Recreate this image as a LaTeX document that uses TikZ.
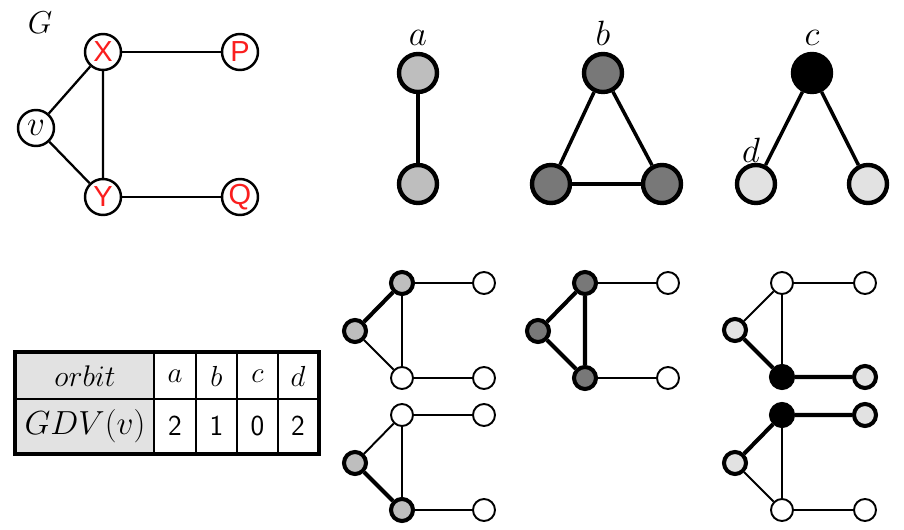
\RequirePackage{fix-cm}
\documentclass[tikz,border=0pt]{standalone}
\usepackage{xcolor}
\usepackage{fontspec}
\usepackage{tikz}
\usetikzlibrary{positioning}
\newfontfamily\letterfont{Liberation Sans}
\definecolor{GLRed}{RGB}{250,30,30}
\definecolor{OrbA}{RGB}{190,190,190}
\definecolor{OrbB}{RGB}{120,120,120}
\definecolor{OrbD}{RGB}{226,226,226}
\definecolor{CellGray}{RGB}{226,226,226}
\newcommand{\bigfont}{\fontsize{20}{22}\selectfont}
\newcommand{\midfont}{\fontsize{16.5}{18}\selectfont}

\begin{document}
\begin{tikzpicture}[x=0.02cm, y=-0.02cm,
    gnode/.style={circle, draw, fill=white, line width=1.4pt,
                  minimum size=0.72cm, inner sep=0pt},
    redletter/.style={text=GLRed, font=\letterfont\midfont},
    gedge/.style={line width=1.3pt},
    orbnode/.style={circle, draw, line width=2.5pt,
                    minimum size=0.76cm, inner sep=0pt},
    orbedge/.style={line width=2pt},
    snode/.style={circle, draw, fill=white, line width=1.1pt,
                  minimum size=0.44cm, inner sep=0pt},
    hnode/.style={snode, line width=2.3pt},
    thinedge/.style={line width=1.1pt},
    thickedge/.style={line width=2.3pt},
    cell/.style={draw, line width=1.1pt, inner sep=0pt,
                 minimum height=0.92cm},
    lowcell/.style={cell, minimum height=1.08cm},
    numcell/.style={lowcell, font=\sffamily\midfont}]
  \useasboundingbox (0,0) rectangle (904,530);

  % graph G
  \node[font=\fontsize{18}{20}\selectfont] (Glabel) at (40,23) {$G$};
  \node[gnode, redletter] (X) at (103,52) {X};
  \node[gnode, redletter] (P) at (240,52) {P};
  \node[gnode, font=\bigfont] (v) at (36,128) {$v$};
  \node[gnode, redletter] (Y) at (103,197) {Y};
  \node[gnode, redletter] (Q) at (240,197) {Q};
  \draw[gedge] (v) -- (X) -- (Y) -- (v);
  \draw[gedge] (X) -- (P);
  \draw[gedge] (Y) -- (Q);

  % graphlets with orbits
  \node[orbnode, fill=OrbA] (a1) at (418,73) {};
  \node[orbnode, fill=OrbA] (a2) at (418,184) {};
  \node[font=\bigfont, above=0pt of a1] (alabel) {$a$};
  \draw[orbedge] (a1) -- (a2);

  \node[orbnode, fill=OrbB] (b1) at (603,73) {};
  \node[orbnode, fill=OrbB] (b2) at (551,184) {};
  \node[orbnode, fill=OrbB] (b3) at (662,184) {};
  \node[font=\bigfont, above=0pt of b1] (blabel) {$b$};
  \draw[orbedge] (b1) -- (b2) -- (b3) -- (b1);

  \node[orbnode, fill=black] (c1) at (812,73) {};
  \node[orbnode, fill=OrbD] (d1) at (756,184) {};
  \node[orbnode, fill=OrbD] (d2) at (868,184) {};
  \node[font=\bigfont, above=0pt of c1] (clabel) {$c$};
  \node[font=\bigfont] (dlabel) at (751,150) {$d$};
  \draw[orbedge] (d1) -- (c1) -- (d2);

  % orbit a, first copy
  \node[hnode, fill=OrbA] (X1) at (402,283) {};
  \node[hnode, fill=OrbA] (v1) at (355,331) {};
  \node[snode] (Y1) at (402,378) {};
  \node[snode] (P1) at (484,283) {};
  \node[snode] (Q1) at (484,378) {};
  \draw[thickedge] (v1) -- (X1);
  \draw[thinedge] (X1) -- (Y1) -- (v1);
  \draw[thinedge] (X1) -- (P1);
  \draw[thinedge] (Y1) -- (Q1);

  % orbit a, second copy
  \node[snode] (X2) at (402,415) {};
  \node[hnode, fill=OrbA] (v2) at (355,463) {};
  \node[hnode, fill=OrbA] (Y2) at (402,510) {};
  \node[snode] (P2) at (484,415) {};
  \node[snode] (Q2) at (484,510) {};
  \draw[thickedge] (v2) -- (Y2);
  \draw[thinedge] (Y2) -- (X2) -- (v2);
  \draw[thinedge] (X2) -- (P2);
  \draw[thinedge] (Y2) -- (Q2);

  % orbit b
  \node[hnode, fill=OrbB] (X3) at (585,283) {};
  \node[hnode, fill=OrbB] (v3) at (538,331) {};
  \node[hnode, fill=OrbB] (Y3) at (585,378) {};
  \node[snode] (P3) at (668,283) {};
  \node[snode] (Q3) at (668,378) {};
  \draw[thickedge] (v3) -- (X3) -- (Y3) -- (v3);
  \draw[thinedge] (X3) -- (P3);
  \draw[thinedge] (Y3) -- (Q3);

  % orbits c and d, first copy
  \node[snode] (X4) at (782,283) {};
  \node[hnode, fill=OrbD] (v4) at (735,330) {};
  \node[hnode, fill=black] (Y4) at (782,377) {};
  \node[snode] (P4) at (865,283) {};
  \node[hnode, fill=OrbD] (Q4) at (865,377) {};
  \draw[thickedge] (v4) -- (Y4) -- (Q4);
  \draw[thinedge] (v4) -- (X4) -- (Y4);
  \draw[thinedge] (X4) -- (P4);

  % orbits c and d, second copy
  \node[hnode, fill=black] (X5) at (782,415) {};
  \node[hnode, fill=OrbD] (v5) at (735,463) {};
  \node[snode] (Y5) at (782,510) {};
  \node[hnode, fill=OrbD] (P5) at (865,415) {};
  \node[snode] (Q5) at (865,510) {};
  \draw[thickedge] (v5) -- (X5) -- (P5);
  \draw[thinedge] (v5) -- (Y5) -- (X5);
  \draw[thinedge] (Y5) -- (Q5);

  % GDV table
  \node[cell, fill=CellGray, minimum width=2.76cm, font=\fontsize{17}{19}\selectfont] (orbit) at (85,376) {$orbit$};
  \node[cell, minimum width=0.84cm, font=\midfont] (ha) at (175,376) {$a$};
  \node[cell, minimum width=0.82cm, font=\midfont] (hb) at (216.5,376) {$b$};
  \node[cell, minimum width=0.82cm, font=\midfont] (hc) at (257.5,376) {$c$};
  \node[cell, minimum width=0.80cm, font=\midfont] (hd) at (298,376) {$d$};
  \node[lowcell, fill=CellGray, minimum width=2.76cm, font=\fontsize{19}{21}\selectfont] (gdv) at (85,426) {$GDV(v)$};
  \node[numcell, minimum width=0.84cm] (na) at (175,426) {2};
  \node[numcell, minimum width=0.82cm] (nb) at (216.5,426) {1};
  \node[numcell, minimum width=0.82cm] (nc) at (257.5,426) {0};
  \node[numcell, minimum width=0.80cm] (nd) at (298,426) {2};
  \draw[line width=1.8pt] (orbit.north west) rectangle (nd.south east);
\end{tikzpicture}
\end{document}
